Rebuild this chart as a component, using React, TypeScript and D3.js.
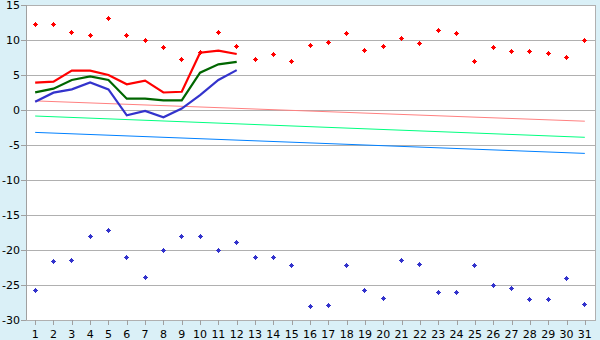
import React from "react";
import * as d3 from "d3";

const days = d3.range(1, 32);
const yTicks = [-30, -25, -20, -15, -10, -5, 0, 5, 10, 15];

const maxPoints = [12.2, 12.2, 11.1, 10.7, 13.1, 10.7, 9.95, 8.95, 7.24, 8.2, 11.1, 9.0, 7.24, 7.95, 6.95, 9.24, 9.67, 10.95, 8.52, 9.1, 10.24, 9.52, 11.38, 10.95, 6.95, 8.95, 8.38, 8.38, 8.1, 7.52, 9.95];
const minPoints = [-25.76, -21.62, -21.48, -18.05, -17.19, -21.05, -23.9, -20.05, -18.05, -18.05, -20.05, -18.9, -21.05, -21.05, -22.2, -28.05, -27.9, -22.2, -25.76, -26.9, -21.48, -22.05, -26.05, -26.05, -22.2, -25.05, -25.48, -27.05, -27.05, -24.05, -27.76];

const maxLine = [3.9, 4.05, 5.62, 5.62, 5.0, 3.67, 4.19, 2.5, 2.6, 8.19, 8.48, 8.0];
const meanLine = [2.52, 3.05, 4.29, 4.81, 4.29, 1.62, 1.62, 1.38, 1.38, 5.33, 6.52, 6.88];
const minLine = [1.19, 2.48, 2.95, 3.95, 2.95, -0.76, -0.14, -1.05, 0.2, 2.14, 4.29, 5.7];

const trendMax = [1.3, -1.6];
const trendMean = [-0.86, -3.9];
const trendMin = [-3.2, -6.2];

const W = 600, H = 340;
const plot = { left: 26, right: 595, top: 5, bottom: 320 };

const marker =
  "M-0.5,-2.5H0.5V-1.5H1.5V-0.5H2.5V0.5H1.5V1.5H0.5V2.5H-0.5V1.5H-1.5V0.5H-2.5V-0.5H-1.5V-1.5H-0.5Z";

export default function App() {
  const x = d3.scalePoint<number>().domain(days).range([plot.left, plot.right - 1]).padding(0.5);
  const y = d3.scaleLinear().domain([-30, 15]).range([plot.bottom, plot.top]);
  const line = d3.line<number>().x((_, i) => x(days[i])!).y((d) => y(d));
  const trend = (t: number[]) =>
    d3.line<number>().x((_, i) => x(i === 0 ? days[0] : days[days.length - 1])!).y((d) => y(d))(t)!;
  const font = "DejaVu Sans, Verdana, sans-serif";
  const px = (v: number) => Math.floor(v) + 0.5;

  return (
    <svg width={W} height={H} style={{ position: "absolute", left: 0, top: 0 }}>
      <rect x={0} y={0} width={W} height={H} fill="#daf0f7" />
      <rect x={plot.left} y={plot.top} width={plot.right - plot.left} height={plot.bottom - plot.top} fill="#ffffff" />
      {yTicks.map((t) => (
        <g key={t}>
          <line x1={plot.left} x2={plot.right} y1={y(t) + 0.5} y2={y(t) + 0.5} stroke="#b0b0b0" strokeWidth={1} />
          <line x1={21} x2={plot.left} y1={y(t) + 0.5} y2={y(t) + 0.5} stroke="#a0a0a0" strokeWidth={1} />
          <text x={20} y={y(t) + 4} textAnchor="end" fontFamily={font} fontSize={11} fill="#000">
            {t}
          </text>
        </g>
      ))}
      <line x1={plot.left + 0.5} x2={plot.left + 0.5} y1={plot.top} y2={plot.bottom} stroke="#a0a0a0" />
      <line x1={plot.right + 0.5} x2={plot.right + 0.5} y1={plot.top} y2={plot.bottom + 1} stroke="#b0b0b0" />
      {days.map((d) => (
        <g key={d}>
          <line x1={Math.round(x(d)!) + 0.5} x2={Math.round(x(d)!) + 0.5} y1={plot.bottom} y2={plot.bottom + 5} stroke="#a0a0a0" />
          <text x={x(d)} y={338} textAnchor="middle" fontFamily={font} fontSize={11} fill="#000">
            {d}
          </text>
        </g>
      ))}
      <path d={trend(trendMax)} fill="none" stroke="#ff8080" strokeWidth={1} />
      <path d={trend(trendMean)} fill="none" stroke="#00ff80" strokeWidth={1} />
      <path d={trend(trendMin)} fill="none" stroke="#0080ff" strokeWidth={1} />
      <path d={line(maxLine)!} fill="none" stroke="#ff0000" strokeWidth={2.2} />
      <path d={line(meanLine)!} fill="none" stroke="#006600" strokeWidth={2.2} />
      <path d={line(minLine)!} fill="none" stroke="#3333cc" strokeWidth={2.2} />
      {maxPoints.map((v, i) => (
        <path key={"mx" + i} d={marker} shapeRendering="crispEdges" transform={`translate(${px(x(days[i])!)},${px(y(v))})`} fill="#ff0000" />
      ))}
      {minPoints.map((v, i) => (
        <path key={"mn" + i} d={marker} shapeRendering="crispEdges" transform={`translate(${px(x(days[i])!)},${px(y(v))})`} fill="#3333cc" />
      ))}
    </svg>
  );
}
